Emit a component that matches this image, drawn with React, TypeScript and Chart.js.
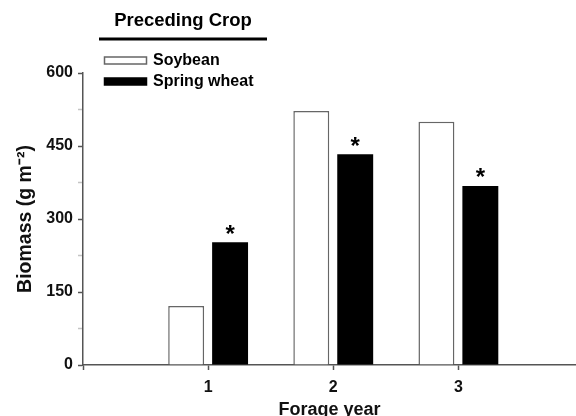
import React, { useEffect, useRef } from "react";
import { Chart, registerables } from "chart.js";

Chart.register(...registerables);

// ---- data ----
const years = [1, 2, 3];
const soybean = [121, 522, 500];
const springWheat = [252, 433, 368];
const wheatMarks = ["*", "*", "*"];
const yMajorTicks = [0, 150, 300, 450, 600];
const yMinorTicks = [75, 225, 375, 525];
const xTicks = [0, 1, 2, 3];
const legendTitle = "Preceding Crop";
const seriesNames = ["Soybean", "Spring wheat"];
const xTitle = "Forage year";
const yTitle = "Biomass (g m\u207B\u00B2)";

const FONT = "'Liberation Sans', Arial, Helvetica, sans-serif";
const AXIS = "#555555";

const annotPlugin = {
  id: "annot",
  afterDatasetsDraw(chart: any) {
    const ctx = chart.ctx;
    ctx.save();
    // significance marks over spring wheat bars
    const meta = chart.getDatasetMeta(1);
    ctx.fillStyle = "#000";
    ctx.font = `bold 24px ${FONT}`;
    ctx.textAlign = "center";
    ctx.textBaseline = "alphabetic";
    meta.data.forEach((el: any, i: number) => {
      const m = wheatMarks[i];
      if (m) ctx.fillText(m, el.x, el.y - 0.5);
    });

    // custom legend
    ctx.textAlign = "center";
    ctx.font = `bold 18.5px ${FONT}`;
    ctx.fillText(legendTitle, 183, 26);
    ctx.fillRect(99, 37.5, 168, 3);

    const ds = chart.data.datasets;
    const rows = [
      { boxY: 57, textY: 65 },
      { boxY: 78, textY: 86 },
    ];
    ctx.textAlign = "left";
    ctx.font = `bold 16px ${FONT}`;
    ds.forEach((d: any, i: number) => {
      const r = rows[i];
      ctx.fillStyle = d.backgroundColor;
      ctx.fillRect(104.5, r.boxY, 42, 7);
      ctx.strokeStyle = d.borderColor;
      ctx.lineWidth = 1.5;
      ctx.strokeRect(104.5, r.boxY, 42, 7);
      ctx.fillStyle = "#000";
      ctx.fillText(d.label, 153, r.textY);
    });
    ctx.restore();
  },
};

export default function App() {
  const ref = useRef<HTMLCanvasElement | null>(null);

  useEffect(() => {
    document.body.style.margin = "0";
    const canvas = ref.current;
    if (!canvas) return;
    const chart = new Chart(canvas, {
      type: "bar",
      data: {
        datasets: [
          {
            label: seriesNames[0],
            data: years.map((x, i) => ({ x, y: soybean[i] })),
            backgroundColor: "#ffffff",
            borderColor: "#666666",
            borderWidth: 1.5,
          },
          {
            label: seriesNames[1],
            data: years.map((x, i) => ({ x, y: springWheat[i] })),
            backgroundColor: "#000000",
            borderColor: "#000000",
            borderWidth: 0,
          },
        ],
      },
      options: {
        responsive: false,
        animation: false,
        events: [],
        layout: { padding: { top: 73, left: 0, right: 0, bottom: 0 } },
        datasets: {
          bar: { categoryPercentage: 0.702, barPercentage: 0.818 },
        },
        plugins: {
          legend: { display: false },
          tooltip: { enabled: false },
          title: { display: false },
        },
        scales: {
          x: {
            type: "linear",
            min: 0,
            max: 3.94,
            offset: false,
            afterBuildTicks: (s: any) => {
              s.ticks = xTicks.map((v) => ({ value: v }));
            },
            afterFit: (s: any) => {
              s.height = 51;
            },
            grid: {
              display: true,
              drawOnChartArea: false,
              drawTicks: true,
              tickLength: 5,
              tickColor: AXIS,
              tickWidth: 1.5,
              offset: false,
            },
            border: { display: true, color: AXIS, width: 1.5 },
            ticks: {
              color: "#111",
              padding: 8,
              font: { family: FONT, size: 16, weight: "bold" },
              callback: (v: any) => (v === 0 ? "" : String(v)),
            },
            title: {
              display: true,
              text: xTitle,
              color: "#111",
              font: { family: FONT, size: 18, weight: "bold", lineHeight: 1 },
              padding: { top: 0, bottom: -3 },
            },
          },
          y: {
            type: "linear",
            min: 0,
            max: 600,
            afterBuildTicks: (s: any) => {
              s.ticks = [...yMajorTicks, ...yMinorTicks]
                .sort((a, b) => a - b)
                .map((v) => ({ value: v }));
            },
            afterFit: (s: any) => {
              s.width = 83;
            },
            grid: {
              display: true,
              drawOnChartArea: false,
              drawTicks: true,
              tickLength: 5,
              tickColor: (c: any) =>
                yMajorTicks.includes(c.tick?.value) ? AXIS : "rgba(85,85,85,0.35)",
              tickWidth: 1.5,
            },
            border: { display: true, color: AXIS, width: 1.5 },
            ticks: {
              color: "#111",
              padding: 5,
              font: { family: FONT, size: 16, weight: "bold" },
              callback: (v: any) => (yMajorTicks.includes(v) ? String(v) : ""),
            },
            title: {
              display: true,
              text: yTitle,
              color: "#111",
              font: { family: FONT, size: 19.5, weight: "bold", lineHeight: 1 },
              padding: { top: 15.5, bottom: 0 },
            },
          },
        },
      } as any,
      plugins: [annotPlugin],
    });
    return () => chart.destroy();
  }, []);

  return (
    <div style={{ width: 576, height: 416, background: "#fff" }}>
      <canvas ref={ref} width={576} height={416} />
    </div>
  );
}
